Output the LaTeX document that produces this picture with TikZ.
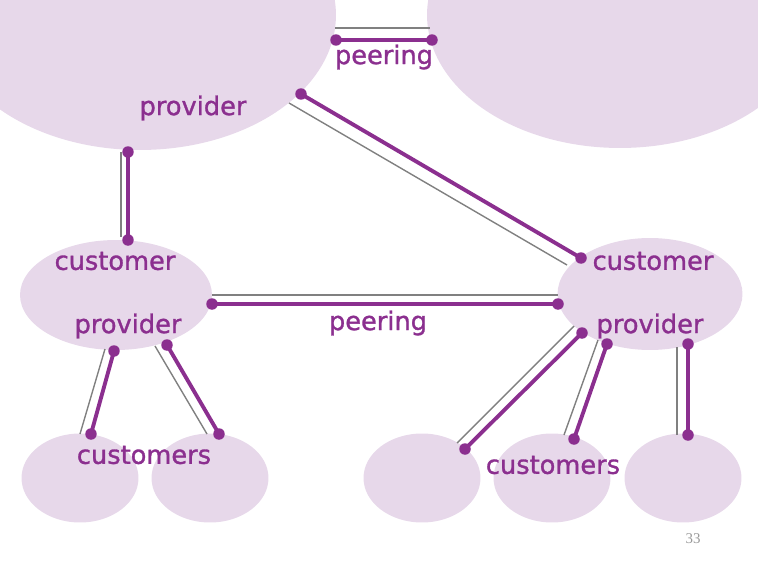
\documentclass[tikz,border=0pt]{standalone}
\usepackage{fontspec}
\setmainfont{DejaVu Sans}
\newfontfamily\tagfont[FakeBold=1.2]{DejaVu Sans}
\usetikzlibrary{shapes.geometric}
\definecolor{plum}{RGB}{139,47,143}
\definecolor{lilac}{RGB}{231,216,234}
\definecolor{wiregray}{RGB}{128,128,128}
\tikzset{
  cloud/.style={ellipse, fill=lilac, draw=none, inner sep=0pt},
  link/.style={line width=2.2pt, draw=plum},
  backline/.style={line width=0.8pt, draw=wiregray},
  dot/.style={circle, fill=plum, inner sep=0pt, minimum size=0.23cm},
  tag/.style={font=\tagfont\fontsize{14.6}{16}\selectfont, text=plum, inner sep=0pt},
}

\begin{document}
\begin{tikzpicture}[x=0.02cm, y=-0.02cm]
\useasboundingbox (0,0) rectangle (758,568);
\clip (0,0) rectangle (758,568);
% areas
\node[cloud, minimum width=7.84cm, minimum height=5.4cm] (top1) at (140,15) {};
\node[cloud, minimum width=7.72cm, minimum height=5.32cm] (top2) at (620,15) {};
\node[cloud, minimum width=3.84cm, minimum height=2.2cm] (mid1) at (116,295) {};
\node[cloud, minimum width=3.7cm, minimum height=2.24cm] (mid2) at (650,294) {};
\node[cloud, minimum width=2.34cm, minimum height=1.78cm] (low1) at (80,478) {};
\node[cloud, minimum width=2.34cm, minimum height=1.78cm] (low2) at (210,478) {};
\node[cloud, minimum width=2.34cm, minimum height=1.78cm] (low3) at (422,478) {};
\node[cloud, minimum width=2.34cm, minimum height=1.78cm] (low4) at (552,478) {};
\node[cloud, minimum width=2.34cm, minimum height=1.78cm] (low5) at (683,478) {};
% gray lines
\coordinate (g1a) at (335,28);  \coordinate (g1b) at (430,28);
\coordinate (g2a) at (289,103); \coordinate (g2b) at (567,265);
\coordinate (g3a) at (121,152); \coordinate (g3b) at (121,237);
\coordinate (g4a) at (212,295); \coordinate (g4b) at (558,295);
\coordinate (g5a) at (105,349); \coordinate (g5b) at (80,434);
\coordinate (g6a) at (155,346); \coordinate (g6b) at (207,434);
\coordinate (g7a) at (574,326); \coordinate (g7b) at (457,443);
\coordinate (g8a) at (598,340); \coordinate (g8b) at (564,435);
\coordinate (g9a) at (677,347); \coordinate (g9b) at (677,435);
\draw[backline] (g1a) -- (g1b);
\draw[backline] (g2a) -- (g2b);
\draw[backline] (g3a) -- (g3b);
\draw[backline] (g4a) -- (g4b);
\draw[backline] (g5a) -- (g5b);
\draw[backline] (g6a) -- (g6b);
\draw[backline] (g7a) -- (g7b);
\draw[backline] (g8a) -- (g8b);
\draw[backline] (g9a) -- (g9b);
% purple links
\node[dot] (p1a) at (336,40) {};  \node[dot] (p1b) at (432,40) {};
\node[dot] (p2a) at (301,94) {};  \node[dot] (p2b) at (581,258) {};
\node[dot] (p3a) at (128,152) {}; \node[dot] (p3b) at (128,240) {};
\node[dot] (p4a) at (212,304) {}; \node[dot] (p4b) at (558,304) {};
\node[dot] (p5a) at (114,351) {}; \node[dot] (p5b) at (91,434) {};
\node[dot] (p6a) at (167,345) {}; \node[dot] (p6b) at (219,434) {};
\node[dot] (p7a) at (582,333) {}; \node[dot] (p7b) at (465,449) {};
\node[dot] (p8a) at (607,344) {}; \node[dot] (p8b) at (574,439) {};
\node[dot] (p9a) at (688,344) {}; \node[dot] (p9b) at (688,435) {};
\draw[link] (p1a.center) -- (p1b.center);
\draw[link] (p2a.center) -- (p2b.center);
\draw[link] (p3a.center) -- (p3b.center);
\draw[link] (p4a.center) -- (p4b.center);
\draw[link] (p5a.center) -- (p5b.center);
\draw[link] (p6a.center) -- (p6b.center);
\draw[link] (p7a.center) -- (p7b.center);
\draw[link] (p8a.center) -- (p8b.center);
\draw[link] (p9a.center) -- (p9b.center);
% labels
\node[tag] (peer1) at (384,57) {peering};
\node[tag] (prov1) at (193,108) {provider};
\node[tag] (cust1) at (115,261) {customer};
\node[tag] (prov2) at (128,326) {provider};
\node[tag] (peer2) at (378,323) {peering};
\node[tag] (cust2) at (653,261) {customer};
\node[tag] (prov3) at (650,326) {provider};
\node[tag] (cust3) at (144,455) {customers};
\node[tag] (cust4) at (553,465) {customers};
\node[font=\fontspec{Liberation Serif}\fontsize{8.5}{10}\selectfont, text=black!40, inner sep=0pt] (page) at (693,539) {33};
\end{tikzpicture}
\end{document}
